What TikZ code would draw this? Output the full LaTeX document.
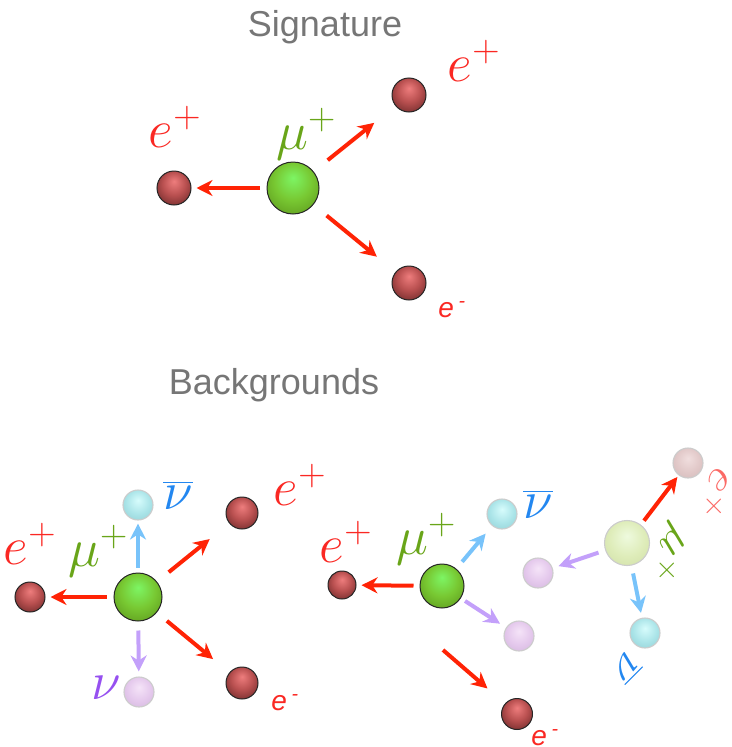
\documentclass[tikz,border=0pt]{standalone}
\usepackage{fix-cm}
\usepackage{amsmath}
\usepackage{fontspec}
\setsansfont{Liberation Sans}
\usetikzlibrary{arrows.meta}

\definecolor{titlegray}{RGB}{118,118,118}
\definecolor{ered}{RGB}{250,40,35}
\definecolor{mugreen}{RGB}{105,165,25}
\definecolor{nublue}{RGB}{35,135,240}
\definecolor{nupurple}{RGB}{150,80,240}
\definecolor{arrred}{RGB}{255,35,5}
\definecolor{arrblue}{RGB}{120,195,250}
\definecolor{arrpurple}{RGB}{195,160,250}

% ball shadings, lit from the top
\pgfdeclareradialshading{eshade}{\pgfpoint{0bp}{10bp}}{%
  color(0bp)=(rgb,255:red,238;green,125;blue,125); color(17bp)=(rgb,255:red,185;green,80;blue,80);
  color(34bp)=(rgb,255:red,110;green,42;blue,42); color(50bp)=(rgb,255:red,110;green,42;blue,42)}
\pgfdeclareradialshading{mushade}{\pgfpoint{0bp}{10bp}}{%
  color(0bp)=(rgb,255:red,125;green,245;blue,100); color(18bp)=(rgb,255:red,120;green,200;blue,50);
  color(34bp)=(rgb,255:red,95;green,155;blue,30); color(50bp)=(rgb,255:red,95;green,155;blue,30)}
\pgfdeclareradialshading{nubarshade}{\pgfpoint{0bp}{8bp}}{%
  color(0bp)=(rgb,255:red,215;green,252;blue,252); color(20bp)=(rgb,255:red,170;green,228;blue,232);
  color(34bp)=(rgb,255:red,150;green,210;blue,215); color(50bp)=(rgb,255:red,150;green,210;blue,215)}
\pgfdeclareradialshading{nushade}{\pgfpoint{0bp}{8bp}}{%
  color(0bp)=(rgb,255:red,245;green,228;blue,248); color(20bp)=(rgb,255:red,228;green,200;blue,236);
  color(34bp)=(rgb,255:red,212;green,185;blue,222); color(50bp)=(rgb,255:red,212;green,185;blue,222)}
\pgfdeclareradialshading{palemushade}{\pgfpoint{0bp}{8bp}}{%
  color(0bp)=(rgb,255:red,238;green,250;blue,222); color(20bp)=(rgb,255:red,222;green,236;blue,185);
  color(34bp)=(rgb,255:red,210;green,225;blue,170); color(50bp)=(rgb,255:red,210;green,225;blue,170)}
\pgfdeclareradialshading{paleeshade}{\pgfpoint{0bp}{8bp}}{%
  color(0bp)=(rgb,255:red,240;green,222;blue,222); color(20bp)=(rgb,255:red,225;green,200;blue,200);
  color(34bp)=(rgb,255:red,212;green,188;blue,188); color(50bp)=(rgb,255:red,212;green,188;blue,188)}

\begin{document}
\begin{tikzpicture}[x=1pt, y=-1pt, >={Stealth[length=16pt,width=16pt]},
    ball/.style={circle, draw=black!85, line width=1pt, inner sep=0pt},
    pale/.style={circle, draw=black!20, line width=1.1pt, inner sep=0pt},
    title/.style={font=\sffamily\fontsize{36}{40}\selectfont, text=titlegray},
    lbl/.style={font=\fontsize{54}{58}\selectfont},
    small lbl/.style={font=\fontsize{46}{50}\selectfont},
    eminus/.style={font=\sffamily\itshape\fontsize{28}{30}\selectfont, text=ered},
    redarr/.style={->, line width=4pt, draw=arrred, fill=arrred},
    bluearr/.style={->, line width=4pt, draw=arrblue, fill=arrblue},
    purparr/.style={->, line width=4pt, draw=arrpurple, fill=arrpurple}]
  \useasboundingbox (0,0) rectangle (731,747);

  % Titles
  \node[title] (sig) at (325,27) {Signature};
  \node[title] (bkg) at (274,385) {Backgrounds};

  % Signature: mu -> e e e
  \node[ball, shading=mushade, minimum size=52pt] (mu1) at (293,188) {};
  \node[ball, shading=eshade, minimum size=34pt] (e1l) at (174,188) {};
  \node[ball, shading=eshade, minimum size=34pt] (e1u) at (409,95) {};
  \node[ball, shading=eshade, minimum size=34pt] (e1d) at (409,283) {};

  \node[lbl, text=mugreen] at (306,134) {$\mu^+$};
  \node[lbl, text=ered] at (175,127) {$e^+$};
  \node[lbl, text=ered] at (474,61) {$e^+$};
  \node[eminus] at (452,310) {e\,\textsuperscript{-}};

  \draw[redarr, shorten <=7pt, shorten >=5pt] (mu1) -- (e1l);
  \draw[redarr, shorten <=18pt, shorten >=27pt] (mu1) -- (e1u);
  \draw[redarr, shorten <=17pt, shorten >=24pt] (mu1) -- (e1d);

  % Background 1: radiative decay plus a second e+
  \node[ball, shading=mushade, minimum size=48pt] (mu2) at (138,597) {};
  \node[ball, shading=eshade, minimum size=30pt] (e2l) at (30,597) {};
  \node[pale, shading=nubarshade, minimum size=30pt] (nb2) at (138,505) {};
  \node[pale, shading=nushade, minimum size=30pt] (nu2) at (139,692) {};
  \node[ball, shading=eshade, minimum size=32pt] (e2u) at (242,513) {};
  \node[ball, shading=eshade, minimum size=32pt] (e2d) at (242,683) {};

  \node[lbl, text=mugreen] at (98,551) {$\mu^+$};
  \node[lbl, text=ered] at (30,544) {$e^+$};
  \node[lbl, text=ered] at (300,485) {$e^+$};
  \node[lbl, text=nublue] at (178,495) {$\overline{\nu}$};
  \node[lbl, text=nupurple] at (106,688) {$\nu$};
  \node[eminus] at (285,703) {e\,\textsuperscript{-}};

  \draw[redarr, shorten <=7pt, shorten >=5pt] (mu2) -- (e2l);
  \draw[bluearr, shorten <=5pt, shorten >=3pt] (mu2) -- (nb2);
  \draw[purparr, shorten <=9pt, shorten >=5pt] (mu2) -- (nu2);
  \draw[redarr, shorten <=15pt, shorten >=25pt] (mu2) -- (e2u);
  \draw[redarr, shorten <=13pt, shorten >=21pt] (mu2) -- (e2d);

  % Background 2: accidental overlap of two decays
  \node[ball, shading=mushade, minimum size=44pt] (mu3) at (442,586) {};
  \node[ball, shading=eshade, minimum size=28pt] (e3l) at (342,585) {};
  \node[pale, shading=nubarshade, minimum size=30pt] (nb3) at (502,514) {};
  \node[pale, shading=nushade, minimum size=30pt] (nu3) at (519,636) {};
  \node[ball, shading=eshade, minimum size=31pt] (e3d) at (517,714) {};
  \coordinate (e3src) at (443,650);

  \node[pale, shading=palemushade, minimum size=45pt] (mu4) at (627,543) {};
  \node[pale, shading=paleeshade, minimum size=30pt] (e4) at (688,463) {};
  \node[pale, shading=nushade, minimum size=30pt] (nu4) at (538,573) {};
  \node[pale, shading=nubarshade, minimum size=30pt] (nb4) at (645,633) {};

  \node[lbl, text=mugreen] at (426,539) {$\mu^+$};
  \node[lbl, text=ered] at (346,542) {$e^+$};
  \node[lbl, text=nublue] at (538,504) {$\overline{\nu}$};
  \node[eminus] at (545,738) {e\,\textsuperscript{-}};

  \node[small lbl, text=ered!70, rotate=-135] at (716,494) {$e^+$};
  \node[small lbl, text=mugreen, rotate=-135] at (668,553) {$\mu^+$};
  \node[small lbl, text=nublue, rotate=-135] at (626,668) {$\overline{\nu}$};

  \draw[redarr, shorten <=6pt, shorten >=5pt] (mu3) -- (e3l);
  \draw[bluearr, shorten <=9pt, shorten >=10pt] (mu3) -- (nb3);
  \draw[purparr, shorten <=5pt, shorten >=7pt] (mu3) -- (nu3);
  \draw[redarr, shorten >=23pt] (e3src) -- (e3d);

  \draw[redarr, shorten <=5pt, shorten >=2pt] (mu4) -- (e4);
  \draw[purparr, shorten <=7pt, shorten >=6pt] (mu4) -- (nu4);
  \draw[bluearr, shorten <=8pt, shorten >=5pt] (mu4) -- (nb4);
\end{tikzpicture}
\end{document}
